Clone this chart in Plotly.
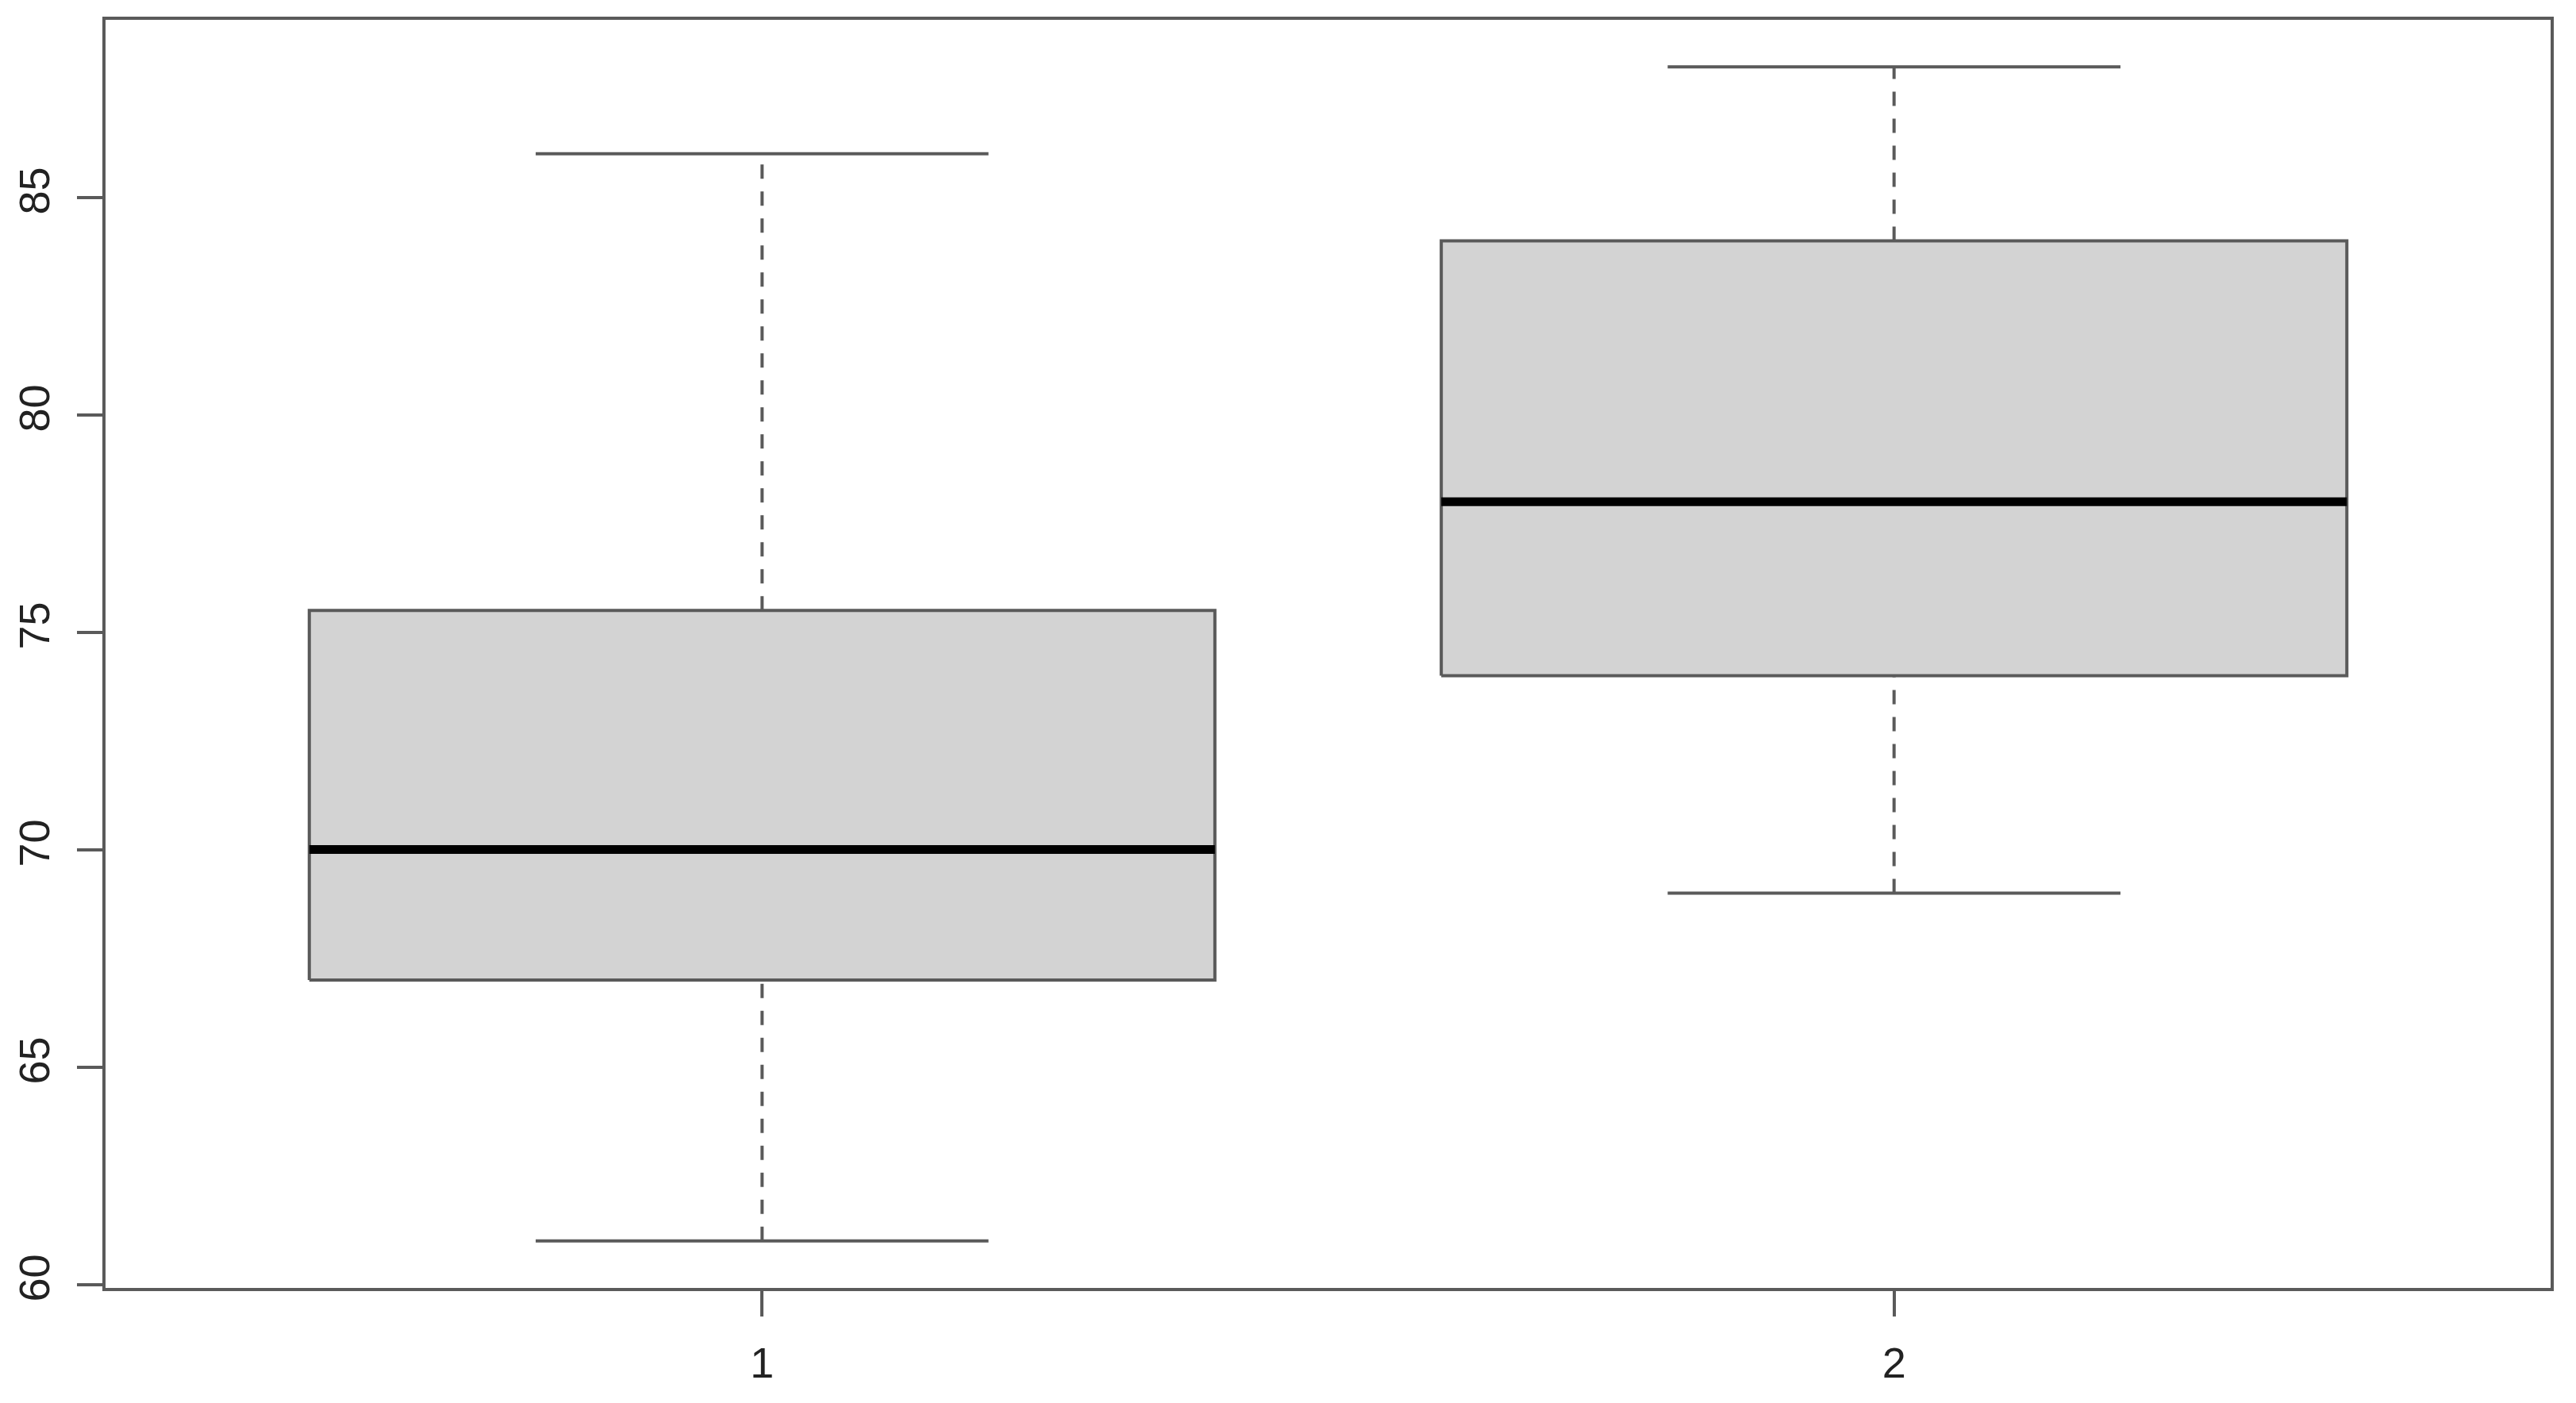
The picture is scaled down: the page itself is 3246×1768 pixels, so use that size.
import plotly.graph_objects as go

# Data
groups = ["1", "2"]
positions = [1, 2]
lower_whisker = [61, 69]
q1 = [67, 74]
median = [70, 78]
q3 = [75.5, 84]
upper_whisker = [86, 88]
y_ticks = [60, 65, 70, 75, 80, 85]

BOX_HALF = 0.4
STAPLE_HALF = 0.2
LINE_COL = "#5a5a5a"

box_x, box_y = [], []
med_x, med_y = [], []
wh_x, wh_y = [], []
st_x, st_y = [], []
for c, lo, a, m, b, hi in zip(positions, lower_whisker, q1, median, q3, upper_whisker):
    box_x += [c - BOX_HALF, c + BOX_HALF, c + BOX_HALF, c - BOX_HALF, c - BOX_HALF, None]
    box_y += [a, a, b, b, a, None]
    med_x += [c - BOX_HALF, c + BOX_HALF, None]
    med_y += [m, m, None]
    wh_x += [c, c, None, c, c, None]
    wh_y += [b, hi, None, lo, a, None]
    st_x += [c - STAPLE_HALF, c + STAPLE_HALF, None, c - STAPLE_HALF, c + STAPLE_HALF, None]
    st_y += [hi, hi, None, lo, lo, None]

fig = go.Figure()
fig.add_trace(go.Scatter(x=box_x, y=box_y, mode="lines", fill="toself",
                         fillcolor="#d3d3d3", line=dict(color=LINE_COL, width=4),
                         hoverinfo="skip", showlegend=False))
fig.add_trace(go.Scatter(x=wh_x, y=wh_y, mode="lines",
                         line=dict(color=LINE_COL, width=4, dash="18px,16px"),
                         hoverinfo="skip", showlegend=False))
fig.add_trace(go.Scatter(x=st_x, y=st_y, mode="lines",
                         line=dict(color=LINE_COL, width=4),
                         hoverinfo="skip", showlegend=False))
fig.add_trace(go.Scatter(x=med_x, y=med_y, mode="lines",
                         line=dict(color="black", width=11),
                         hoverinfo="skip", showlegend=False))

axis_common = dict(showline=True, mirror=True, linecolor=LINE_COL, linewidth=4,
                   ticks="outside", ticklen=32, tickwidth=4, tickcolor=LINE_COL,
                   showgrid=False, zeroline=False, automargin=False,
                   tickfont=dict(family="Liberation Sans, Arial, sans-serif", size=54, color="#222"))

fig.update_layout(
    width=3230, height=1752,
    margin=dict(l=125, r=24, t=17, b=137, autoexpand=False),
    paper_bgcolor="white", plot_bgcolor="white",
    xaxis=dict(range=[0.42, 2.58], tickvals=positions, ticktext=groups,
               ticklabelstandoff=12, **axis_common),
    yaxis=dict(range=[59.92, 89.08], tickvals=y_ticks, tickangle=-90,
               ticklabelstandoff=13, **axis_common),
)

fig.write_html("out.html")
